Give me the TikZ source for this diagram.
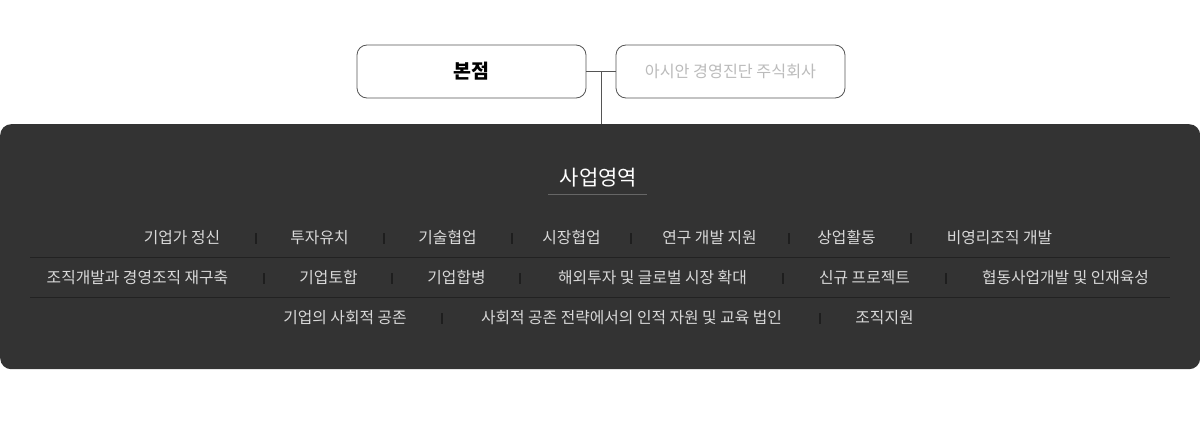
\documentclass[tikz,border=0pt]{standalone}
\usepackage{fontspec}
\usetikzlibrary{calc}
\setmainfont{Noto Sans CJK KR}
\definecolor{panel}{HTML}{333333}
\definecolor{itemtext}{HTML}{D8D8D8}
\definecolor{rule}{HTML}{222222}
\definecolor{sepc}{HTML}{1E1E1E}
\definecolor{boxline}{HTML}{555555}
\definecolor{subtext}{HTML}{BBBBBB}
\tikzset{
  topbox/.style={draw=boxline, line width=0.8pt, fill=white, rounded corners=10pt, minimum width=229pt, minimum height=53pt, inner sep=0pt},
  item/.style={text=itemtext, font=\fontsize{15.8}{18}\selectfont, inner sep=0pt, anchor=center},
  sepline/.style={draw=sepc, line width=1.2pt},
  rowline/.style={draw=rule, line width=0.9pt},
  conn/.style={draw=boxline, line width=0.8pt}
}
\begin{document}
\begin{tikzpicture}[x=1pt,y=-1pt]
\useasboundingbox (0,0) rectangle (1200,431);
\fill[white] (0,0) rectangle (1200,431);
% panel
\node[fill=panel, rounded corners=11pt, minimum width=1200pt, minimum height=245pt, inner sep=0pt, anchor=north west] (panel) at (0,124) {};
% top boxes
\node[topbox] (hq) at (471.5,71.5) {\fontsize{19.5}{22}\selectfont\bfseries 본점};
\node[topbox] (co) at (730.5,71.5) {\textcolor{subtext}{\fontsize{16.2}{19}\selectfont 아시안 경영진단 주식회사}};
\coordinate (j) at ($(hq.east)!0.5!(co.west)$);
\draw[conn] (hq.east) -- (co.west);
\draw[conn] (j) -- (j |- panel.north);
% heading
\node[text=white, font=\fontsize{21}{24}\selectfont, inner sep=0pt] (head) at (598.5,178) {사업영역};
\coordinate (ul1) at (548,194.5);
\coordinate (ul2) at (647,194.5);
\draw[draw=boxline!90!white, line width=0.9pt] (ul1) -- (ul2);
% row 1
\node[item] (a1) at (182,238) {기업가 정신};
\node[item] (a2) at (319.5,238) {투자유치};
\node[item] (a3) at (447.5,238) {기술협업};
\node[item] (a4) at (571.5,238) {시장협업};
\node[item] (a5) at (709.5,238) {연구 개발 지원};
\node[item] (a6) at (846.5,238) {상업활동};
\node[item] (a7) at (999.5,238) {비영리조직 개발};
\foreach \x in {256,384,512,631,789,911} \draw[sepline] (\x,233) -- (\x,244);
\draw[rowline] (30,257.5) -- (1170,257.5);
% row 2
\node[item] (b1) at (137.5,278) {조직개발과 경영조직 재구축};
\node[item] (b2) at (328.5,278) {기업토합};
\node[item] (b3) at (456.5,278) {기업합병};
\node[item] (b4) at (652.5,278) {해외투자 및 글로벌 시장 확대};
\node[item] (b5) at (864.5,278) {신규 프로젝트};
\node[item] (b6) at (1065.5,278) {협동사업개발 및 인재육성};
\foreach \x in {264,392,520,783,946} \draw[sepline] (\x,273) -- (\x,284);
\draw[rowline] (30,297.5) -- (1170,297.5);
% row 3
\node[item] (c1) at (345,318) {기업의 사회적 공존};
\node[item] (c2) at (631.5,318) {사회적 공존 전략에서의 인적 자원 및 교육 법인};
\node[item] (c3) at (884.5,318) {조직지원};
\foreach \x in {442,820} \draw[sepline] (\x,313) -- (\x,324);
\end{tikzpicture}
\end{document}
